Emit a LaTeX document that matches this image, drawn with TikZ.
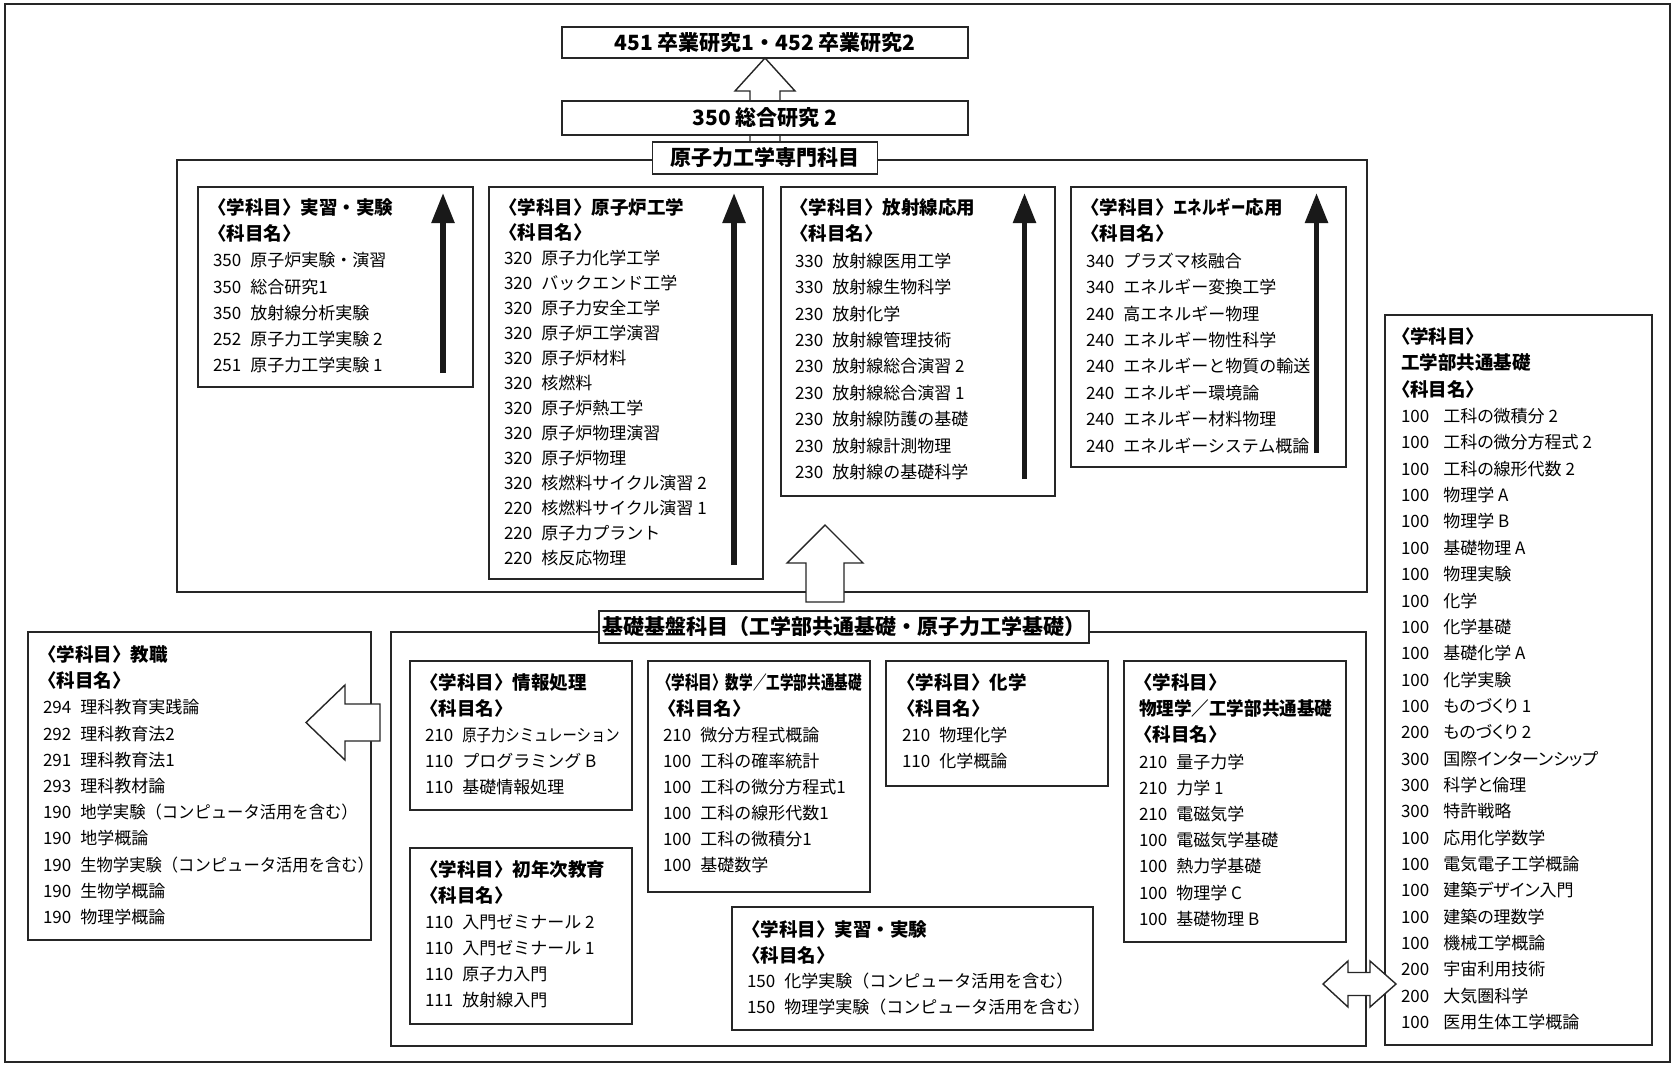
\documentclass[tikz,border=0pt]{standalone}
\usepackage{fontspec}
\setmainfont{Noto Sans CJK JP}
\newfontfamily\jpp[RawFeature=+palt]{Noto Sans CJK JP}
\usepackage{graphicx}
\usetikzlibrary{arrows.meta}
\newlength\egap
\setlength\egap{9pt}
\newlength\hshift
\setlength\hshift{-0.5em}
\tikzset{
 frame/.style={draw=black!85, line width=2pt, inner sep=0pt, outer sep=0pt},
 bx/.style={draw=black!85, line width=1.6pt, fill=white, inner sep=0pt, outer sep=0pt},
 lab/.style={bx, font=\fontsize{21}{24}\selectfont\bfseries},
 tl/.style={anchor=base west, inner sep=0pt, outer sep=0pt, font=\fontsize{17}{20}\selectfont},
 tlr/.style={font={\fontsize{17}{20}\selectfont\jpp\setlength\egap{14pt}\setlength\hshift{0pt}}},
 hol/.style={draw=black!85, line width=1.4pt, fill=white, line join=miter},
 blk/.style={draw=black!90, line width=5.5pt, -{Triangle[width=22pt,length=30pt]}},
}
\newcommand\e[2]{#1\hspace{\egap}#2}
\newcommand\hd[1]{{\fontsize{18.5}{20}\selectfont\bfseries\hspace*{\hshift}#1}}
\newcommand\hdn[1]{{\fontsize{18.5}{20}\selectfont\bfseries #1}}
\newcommand\boxnode[5]{\node[bx, anchor=north west, minimum width={#4pt-#2pt}, minimum height={#5pt-#3pt}] (#1) at (#2,-#3) {};}
\newcommand\tlines[6][]{\foreach \t [count=\i] in {#6} {\node[tl,#1] (#2-\i) at (#3, {-(#4+(\i-1)*#5+6.5)}) {\t};}}
\begin{document}
\begin{tikzpicture}[x=1pt,y=1pt]
\useasboundingbox (0,0) rectangle (1673,-1065);
\node[frame, anchor=north west, minimum width=1665pt, minimum height=1058pt] (frame) at (5,-4) {};

% ---------- upper part ----------
\boxnode{P}{177}{160}{1367}{592}
\node[bx, minimum width=406pt, minimum height=31pt] (n451) at (765,-42.5) {\fontsize{21}{24}\selectfont\bfseries 451 卒業研究1・452 卒業研究2};
\draw[hol] (n451.south) -- ([xshift=30pt,yshift=-33pt]n451.south) -- ([xshift=15pt,yshift=-33pt]n451.south)
  -- ([xshift=15pt,yshift=-84pt]n451.south) -- ([xshift=-15pt,yshift=-84pt]n451.south)
  -- ([xshift=-15pt,yshift=-33pt]n451.south) -- ([xshift=-30pt,yshift=-33pt]n451.south) -- cycle;
\node[bx, minimum width=406pt, minimum height=34pt] (n350) at (765,-118) {\fontsize{21}{24}\selectfont\bfseries 350 総合研究 2};
\node[lab, minimum width=225pt, minimum height=32pt] (lab1) at (765,-158) {原子力工学専門科目};

\boxnode{A}{198}{187}{473}{387}
\boxnode{B}{489}{187}{763}{579}
\boxnode{C}{781}{187}{1055}{496}
\boxnode{D}{1071}{187}{1346}{467}

\tlines{At}{213}{208}{26.17}{\hd{〈学科目〉実習・実験}, \hd{〈科目名〉}, \e{350}{原子炉実験・演習}, \e{350}{総合研究1}, \e{350}{放射線分析実験}, \e{252}{原子力工学実験 2}, \e{251}{原子力工学実験 1}}
\tlines{Bt}{504}{208}{25.0}{\hd{〈学科目〉原子炉工学}, \hd{〈科目名〉}, \e{320}{原子力化学工学}, \e{320}{バックエンド工学}, \e{320}{原子力安全工学}, \e{320}{原子炉工学演習}, \e{320}{原子炉材料}, \e{320}{核燃料}, \e{320}{原子炉熱工学}, \e{320}{原子炉物理演習}, \e{320}{原子炉物理}, \e{320}{核燃料サイクル演習 2}, \e{220}{核燃料サイクル演習 1}, \e{220}{原子力プラント}, \e{220}{核反応物理}}
\tlines{Ct}{795}{208}{26.4}{\hd{〈学科目〉放射線応用}, \hd{〈科目名〉}, \e{330}{放射線医用工学}, \e{330}{放射線生物科学}, \e{230}{放射化学}, \e{230}{放射線管理技術}, \e{230}{放射線総合演習 2}, \e{230}{放射線総合演習 1}, \e{230}{放射線防護の基礎}, \e{230}{放射線計測物理}, \e{230}{放射線の基礎科学}}
\tlines{Dt}{1086}{208}{26.4}{\hd{〈学科目〉\scalebox{0.78}[1]{エネルギー}応用}, \hd{〈科目名〉}, \e{340}{プラズマ核融合}, \e{340}{エネルギー変換工学}, \e{240}{高エネルギー物理}, \e{240}{エネルギー物性科学}, \e{240}{エネルギーと物質の輸送}, \e{240}{エネルギー環境論}, \e{240}{エネルギー材料物理}, \e{240}{エネルギーシステム概論}}

\coordinate (Aa) at (443,-373); \coordinate (Ab) at (443,-193);
\coordinate (Ba) at (734,-565); \coordinate (Bb) at (734,-193);
\coordinate (Ca) at (1024.5,-479); \coordinate (Cb) at (1024.5,-193);
\coordinate (Da) at (1316.5,-453); \coordinate (Db) at (1316.5,-193);
\draw[blk] (Aa) -- (Ab);
\draw[blk] (Ba) -- (Bb);
\draw[blk] (Ca) -- (Cb);
\draw[blk] (Da) -- (Db);

% middle hollow arrow
\coordinate (mt) at (825,-525);
\draw[hol] (mt) -- ++(38,-38) -- ++(-19,0) -- ++(0,-39) -- ++(-38,0) -- ++(0,39) -- ++(-19,0) -- cycle;

% ---------- lower part ----------
\boxnode{Q}{391}{632}{1366}{1046}
\node[lab, minimum width=490pt, minimum height=32pt] (lab2) at (844,-627) {基礎基盤科目（工学部共通基礎・原子力工学基礎）};

\boxnode{I}{410}{661}{632}{810}
\boxnode{S}{410}{848}{632}{1024}
\boxnode{M}{648}{661}{870}{892}
\boxnode{H}{886}{661}{1108}{786}
\boxnode{F}{1124}{661}{1346}{942}
\boxnode{E}{732}{907}{1093}{1030}

\tlines{It}{425}{683}{26}{\hd{〈学科目〉情報処理}, \hd{〈科目名〉}, \e{210}{\scalebox{0.845}[1]{原子力シミュレーション}}, \e{110}{プログラミング B}, \e{110}{基礎情報処理}}
\tlines{St}{425}{870}{26}{\hd{〈学科目〉初年次教育}, \hd{〈科目名〉}, \e{110}{入門ゼミナール 2}, \e{110}{入門ゼミナール 1}, \e{110}{原子力入門}, \e{111}{放射線入門}}
\tlines{Mt}{663}{683}{26}{\hd{\scalebox{0.735}[1]{〈学科目〉数学／工学部共通基礎}}, \hd{〈科目名〉}, \e{210}{微分方程式概論}, \e{100}{工科の確率統計}, \e{100}{工科の微分方程式1}, \e{100}{工科の線形代数1}, \e{100}{工科の微積分1}, \e{100}{基礎数学}}
\tlines{Ht}{902}{683}{26}{\hd{〈学科目〉化学}, \hd{〈科目名〉}, \e{210}{物理化学}, \e{110}{化学概論}}
\tlines{Ft}{1139}{683}{26.2}{\hd{〈学科目〉}, \hdn{\scalebox{0.95}[1]{物理学／工学部共通基礎}}, \hd{〈科目名〉}, \e{210}{量子力学}, \e{210}{力学 1}, \e{210}{電磁気学}, \e{100}{電磁気学基礎}, \e{100}{熱力学基礎}, \e{100}{物理学 C}, \e{100}{基礎物理 B}}
\tlines{Et}{747}{930}{25.7}{\hd{〈学科目〉実習・実験}, \hd{〈科目名〉}, \e{150}{化学実験（コンピュータ活用を含む）}, \e{150}{物理学実験（コンピュータ活用を含む）}}

% teacher training box
\boxnode{K}{28}{632}{371}{940}
\tlines{Kt}{43}{655}{26.2}{\hd{〈学科目〉教職}, \hd{〈科目名〉}, \e{294}{理科教育実践論}, \e{292}{理科教育法2}, \e{291}{理科教育法1}, \e{293}{理科教材論}, \e{190}{\scalebox{0.96}[1]{地学実験（コンピュータ活用を含む）}}, \e{190}{地学概論}, \e{190}{\scalebox{0.96}[1]{生物学実験（コンピュータ活用を含む）}}, \e{190}{生物学概論}, \e{190}{物理学概論}}
\coordinate (lt) at (306,-722.5);
\draw[hol] (lt) -- ++(39,37.5) -- ++(0,-19) -- ++(35,0) -- ++(0,-37) -- ++(-35,0) -- ++(0,-19) -- cycle;

% common engineering basics box
\boxnode{R}{1385}{315}{1652}{1045}
\tlines[tlr]{Rt}{1401}{337}{26.35}{\hd{〈学科目〉}, \hdn{工学部共通基礎}, \hd{〈科目名〉}, \e{100}{工科の微積分 2}, \e{100}{工科の微分方程式 2}, \e{100}{工科の線形代数 2}, \e{100}{物理学 A}, \e{100}{物理学 B}, \e{100}{基礎物理 A}, \e{100}{物理実験}, \e{100}{化学}, \e{100}{化学基礎}, \e{100}{基礎化学 A}, \e{100}{化学実験}, \e{100}{ものづくり 1}, \e{200}{ものづくり 2}, \e{300}{国際インターンシップ}, \e{300}{科学と倫理}, \e{300}{特許戦略}, \e{100}{応用化学数学}, \e{100}{電気電子工学概論}, \e{100}{建築デザイン入門}, \e{100}{建築の理数学}, \e{100}{機械工学概論}, \e{200}{宇宙利用技術}, \e{200}{大気圏科学}, \e{100}{医用生体工学概論}}

% double arrow between the two foundation areas
\coordinate (dl) at (1323,-984);
\draw[hol] (dl) -- ++(25,23) -- ++(0,-11.5) -- ++(22,0) -- ++(0,11.5) -- ++(26,-23) -- ++(-26,-23) -- ++(0,11.5) -- ++(-22,0) -- ++(0,-11.5) -- cycle;
\end{tikzpicture}
\end{document}
